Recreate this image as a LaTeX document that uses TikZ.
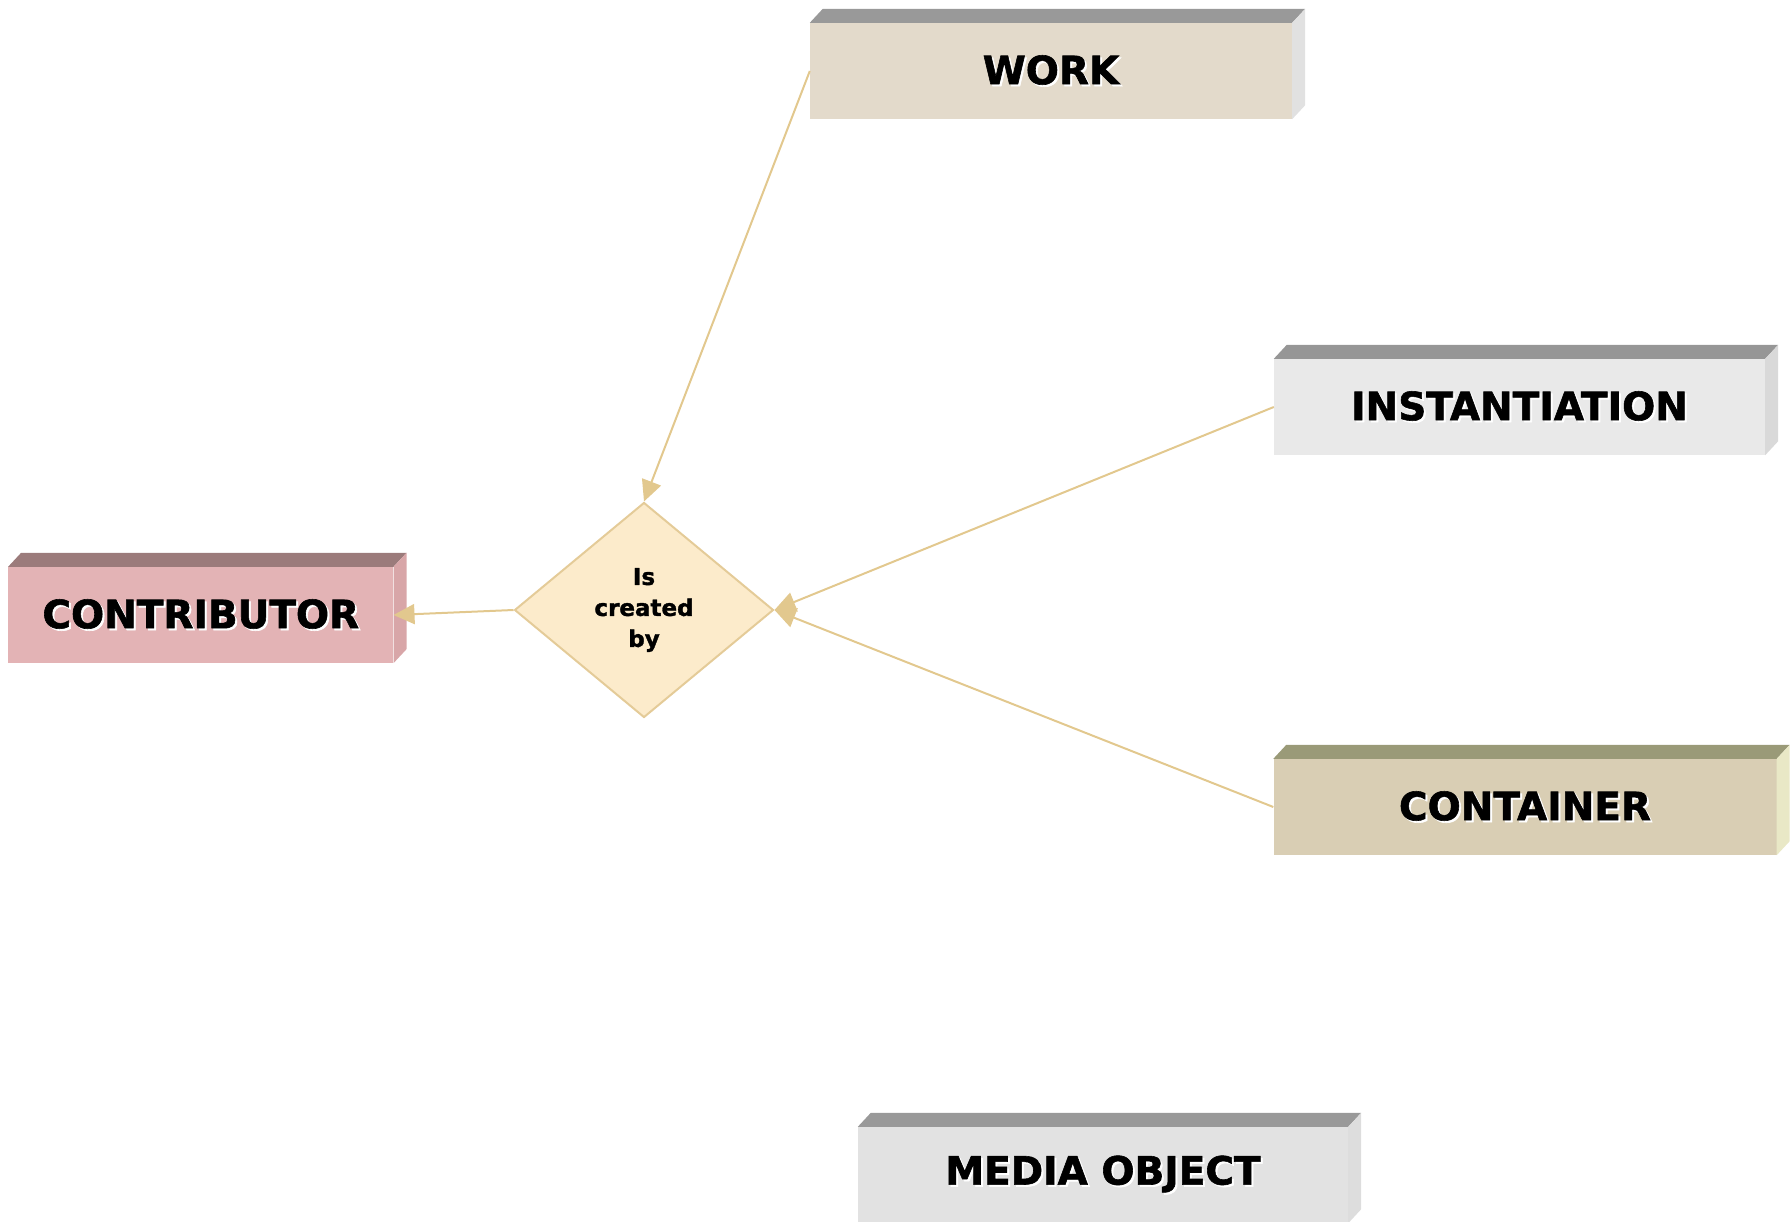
\documentclass[tikz,border=0pt]{standalone}
\usepackage{fontspec}
\setmainfont{DejaVu Sans}
\newfontfamily\heavy{DejaVu Sans Bold}[FakeBold=1.5]
\usepackage{tikz}
\usetikzlibrary{shapes.geometric,arrows.meta}
\usetikzlibrary{positioning}
\definecolor{workfront}{HTML}{E3DACB}
\definecolor{worktop}{HTML}{999999}
\definecolor{workside}{HTML}{E1E1E1}
\definecolor{instfront}{HTML}{E9E9E9}
\definecolor{insttop}{HTML}{969696}
\definecolor{instside}{HTML}{D9D9D9}
\definecolor{contfront}{HTML}{D9CEB4}
\definecolor{conttop}{HTML}{9A9A78}
\definecolor{contside}{HTML}{E9E8C6}
\definecolor{mediafront}{HTML}{E2E2E2}
\definecolor{mediatop}{HTML}{999999}
\definecolor{mediaside}{HTML}{DDDDDD}
\definecolor{contribfront}{HTML}{E3B3B5}
\definecolor{contribtop}{HTML}{9B7B7B}
\definecolor{contribside}{HTML}{D8A6A8}
\definecolor{relfill}{HTML}{FCEBCB}
\definecolor{reldraw}{HTML}{E4CB98}
\definecolor{linkcol}{HTML}{E2C88E}
\tikzset{>={Triangle[length=21pt,width=20pt]}, minimum size=0pt}
\tikzstyle{entity} = [rectangle, minimum height=96pt, inner sep=0pt, text centered, font=\fontsize{39}{39}\selectfont\heavy]
\tikzstyle{relation} = [diamond, draw=reldraw, line width=2pt, fill=relfill, minimum width=259pt, minimum height=215pt, inner sep=0pt, align=center, font=\fontsize{23}{31}\selectfont\heavy]
\tikzstyle{link} = [draw=linkcol, line width=2pt]
% white relief under the labels
\newcommand{\embossed}[1]{\makebox[0pt][l]{\hspace{2pt}\raisebox{-2pt}{\color{white}#1}}#1}
% top and side faces of a slab
\newcommand{\bevel}[3]{%
  \fill [#2] (#1.north west) -- ([xshift=13pt,yshift=14pt]#1.north west) -- ([xshift=13pt,yshift=14pt]#1.north east) -- (#1.north east) -- cycle;
  \fill [#3] (#1.north east) -- ([xshift=13pt,yshift=14pt]#1.north east) -- ([xshift=13pt,yshift=14pt]#1.south east) -- (#1.south east) -- cycle;
}
\begin{document}
\begin{tikzpicture}[x=1pt,y=-1pt]
    \useasboundingbox (0,0) rectangle (1791,1222);
    \node [relation] (rel) at (644,610) {Is\\created\\by};
    \node [entity, minimum width=385pt, fill=contribfront, left=120pt of rel, yshift=-5pt] (contrib) {\embossed{CONTRIBUTOR}};
    \node [entity, minimum width=482pt, fill=workfront] (work) at (1051,71) {\embossed{WORK}};
    \node [entity, minimum width=491pt, fill=instfront] (inst) at (1519.5,407) {\embossed{INSTANTIATION}};
    \node [entity, minimum width=503pt, fill=contfront] (cont) at (1525,807) {\embossed{CONTAINER}};
    \node [entity, minimum width=490pt, fill=mediafront] (media) at (1103,1175) {\embossed{MEDIA OBJECT}};
    \bevel{contrib}{contribtop}{contribside}
    \bevel{work}{worktop}{workside}
    \bevel{inst}{insttop}{instside}
    \bevel{cont}{conttop}{contside}
    \bevel{media}{mediatop}{mediaside}

    \draw [link,->] (work.west) -- (rel.north);
    \draw [link,->] (inst.west) -- (rel.east);
    \draw [link,->] (cont.west) -- (rel.east);
    \draw [link,->] (rel.west) -- (contrib.east);
\end{tikzpicture}
\end{document}
